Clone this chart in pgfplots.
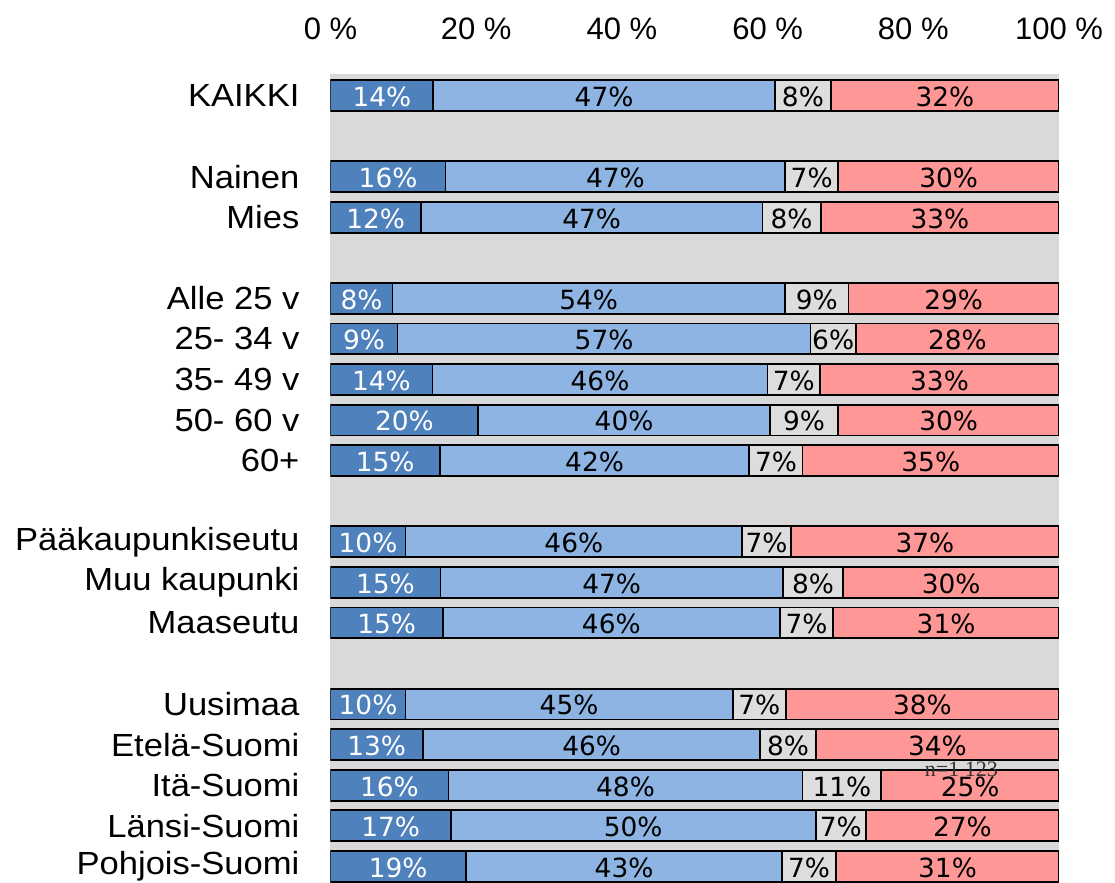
\documentclass[border=0pt]{standalone}
\usepackage{fontspec}
\setmainfont{Liberation Sans}
\newfontfamily\widesans[FakeStretch=1.08]{Liberation Sans}
\newfontfamily\dejavu{DejaVu Sans}
\newfontfamily\serifn{Liberation Serif}
\usepackage{pgfplots}
\usepackage{pgfplotstable}
\pgfplotsset{compat=1.18}
\definecolor{cDark}{HTML}{4F81BD}
\definecolor{cLight}{HTML}{8DB4E2}
\definecolor{cGray}{HTML}{DDDDDD}
\definecolor{cRed}{HTML}{FF9797}
\definecolor{cBg}{HTML}{D9D9D9}

% y = row position; a..d = segment shares (%), la..ld = printed labels
\pgfplotstableread{
y  a    b    c    d    la lb lc ld
0  14.1 46.9 7.7  31.3 14 47 8  32
2  15.8 46.6 7.3  30.3 16 47 7  30
3  12.4 46.9 8.0  32.7 12 47 8  33
5  8.5  53.9 8.7  28.9 8  54 9  29
6  9.2  56.7 6.2  27.9 9  57 6  28
7  14.0 46.0 7.2  32.8 14 46 7  33
8  20.3 40.0 9.4  30.3 20 40 9  30
9  15.0 42.5 7.3  35.2 15 42 7  35
11 10.3 46.2 6.7  36.8 10 46 7  37
12 15.1 47.0 8.3  29.6 15 47 8  30
13 15.4 46.3 7.3  31.0 15 46 7  31
15 10.3 44.9 7.3  37.5 10 45 7  38
16 12.7 46.3 7.6  33.4 13 46 8  34
17 16.2 48.6 10.8 24.4 16 48 11 25
18 16.5 50.1 6.9  26.5 17 50 7  27
19 18.6 43.4 7.4  30.6 19 43 7  31
}\data

\pgfplotsset{
  common/.style={scale only axis, width=364.25pt, height=404.5pt,
    xmin=0, xmax=100, ymin=-0.53, ymax=19.41, y dir=reverse},
  seg/.style={draw=black, line width=0.9pt},
  lab/.style={only marks, mark=none, point meta=explicit symbolic,
    nodes near coords={\pgfplotspointmeta\%},
    every node near coord/.append style={anchor=center, yshift=-0.6pt,
      font=\dejavu\fontsize{13.2}{15}\selectfont, text=#1}},
}

\begin{document}
\begin{tikzpicture}
\begin{axis}[common,
  xbar stacked, bar width=0.76,
  axis background/.style={fill=cBg},
  axis line style={draw=none},
  major tick style={draw=none},
  xtick={0,20,40,60,80,100},
  xticklabels={0 \%,20 \%,40 \%,60 \%,80 \%,100 \%},
  xticklabel pos=upper,
  xticklabel style={font=\fontsize{15.5}{18}\selectfont, anchor=base, yshift=17.5pt},
  ytick={0,2,3,5,6,7,8,9,11,12,13,15,16,17,18,19},
  yticklabels={KAIKKI,Nainen,Mies,Alle 25 v,25- 34 v,35- 49 v,50- 60 v,60+,
    Pääkaupunkiseutu,Muu kaupunki,Maaseutu,Uusimaa,Etelä-Suomi,Itä-Suomi,
    Länsi-Suomi,Pohjois-Suomi},
  yticklabel style={font=\widesans\fontsize{16}{19}\selectfont, anchor=east, xshift=-12pt},
]
\addplot[seg, fill=cDark]  table[x=a, y=y] {\data};
\addplot[seg, fill=cLight] table[x=b, y=y] {\data};
\addplot[seg, fill=cGray]  table[x=c, y=y] {\data};
\addplot[seg, fill=cRed]   table[x=d, y=y] {\data};
\coordinate (BL) at (axis cs:0,19.41);
\coordinate (TR) at (axis cs:100,-0.53);
\end{axis}
\begin{axis}[common, hide axis]
\addplot[lab=white] table[x expr=\thisrow{a}/2, y=y, meta=la] {\data};
\addplot[lab=black] table[x expr=\thisrow{a}+\thisrow{b}/2, y=y, meta=lb] {\data};
\addplot[lab=black] table[x expr=\thisrow{a}+\thisrow{b}+\thisrow{c}/2, y=y, meta=lc] {\data};
\addplot[lab=black] table[x expr=\thisrow{a}+\thisrow{b}+\thisrow{c}+\thisrow{d}/2, y=y, meta=ld] {\data};
\node[font=\serifn\fontsize{11}{13}\selectfont, text=black!80] at (axis cs:86.6,16.62) {n=1 123};
\end{axis}
\pgfresetboundingbox
\path[use as bounding box] ([xshift=-165.25pt]BL) rectangle ([xshift=28pt,yshift=37pt]TR);
\end{tikzpicture}
\end{document}
